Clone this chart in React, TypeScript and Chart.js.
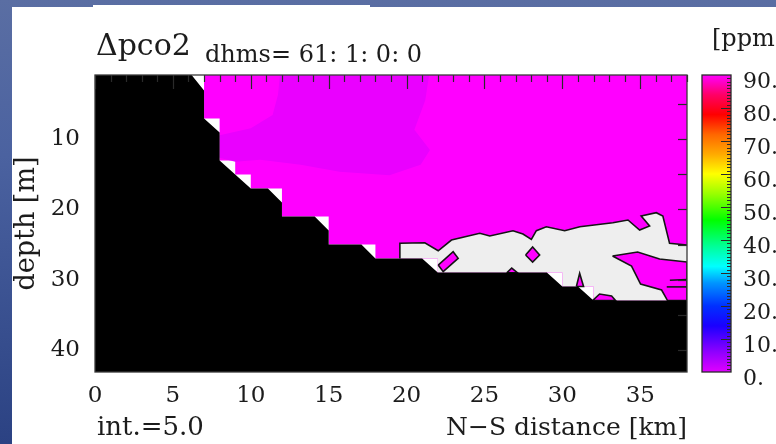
import React, { useEffect, useRef } from 'react';
import { Chart, registerables } from 'chart.js';

Chart.register(...registerables);

// ---------------- data ----------------
const kmRange = [0, 38];
const depthRange = [0.8, 43.2];
const xTickValues = [0, 5, 10, 15, 20, 25, 30, 35];
const depthTickValues = [10, 20, 30, 40];
const cbTickValues = [0, 10, 20, 30, 40, 50, 60, 70, 80, 90];

// colour scale of the colour bar (ppm -> colour)
const cbStopValues = [0, 6, 14, 20, 27, 32, 38, 46, 54, 60, 66, 72, 78, 84, 90];
const cbStopColors = ['#e000ff', '#9000ff', '#1a00ff', '#0030ff', '#0095ff', '#00ffff', '#00ff99', '#00ff00', '#99ff00', '#ffff00', '#ffaa00', '#ff6600', '#ff0000', '#ff0066', '#ff00ff'];

// bathymetry (land, black)
const landKm = [0, 6.2, 7, 7, 8, 8, 10, 11.1, 12, 12, 14.1, 15, 15, 17.1, 18, 21, 22, 29, 30, 31, 32, 38, 38, 0];
const landDepth = [0.8, 0.8, 3, 7, 9, 13, 17, 17, 19, 21, 21, 23, 25, 25, 27, 27, 29, 29, 31, 31, 33, 33, 43.2, 43.2];

// model water cells (stepped grid region)
const waterKm = [7, 38, 38, 32, 32, 30, 30, 22, 22, 18, 18, 15, 15, 12, 12, 10, 10, 9, 9, 8, 8, 7];
const waterDepth = [0, 0, 33, 33, 31, 31, 29, 29, 27, 27, 25, 25, 21, 21, 17, 17, 15, 15, 13, 13, 7, 7];

// slightly lower values (violet shade) near the surface
const violetKm = [11.9, 21.5, 21.2, 20.5, 21.5, 20.9, 18.9, 15.7, 13.2, 10.6, 9.0, 8.0, 8.0, 10.0, 11.4, 11.75];
const violetDepth = [0, 0, 4.4, 8.6, 11.5, 13.6, 15.1, 14.6, 13.6, 12.9, 13.2, 12.6, 9.4, 8.4, 6.5, 3.6];

// out-of-range area (light grey): upper contour
const greyTopKm = [19.57, 21.17, 22.03, 22.88, 24.7, 25.34, 26.83, 27.47, 28.01, 28.33, 28.97, 30.15, 31.12, 33.24, 34.21, 34.96, 35.6, 35.06, 36.03, 36.45, 36.88, 38];
const greyTopDepth = [24.83, 24.74, 25.89, 24.36, 23.4, 23.79, 23.03, 23.5, 24.26, 23.03, 22.46, 23.03, 22.46, 21.89, 21.5, 22.93, 22.36, 20.93, 20.46, 20.93, 24.83, 25.07];
// grey area: right edge and stepped floor back to the start
const greyBaseKm = [38, 32, 32, 30, 30, 22, 22, 19.57];
const greyBaseDepth = [33, 33, 31, 31, 29, 29, 27, 27];

// patches inside the grey area (back in range, magenta)
const wedgeKm = [33.22, 34.83, 36.24, 38, 38, 36.75, 36.37, 35.02, 34.44];
const wedgeDepth = [26.64, 26.07, 27.07, 27.5, 33, 33, 31.5, 30.64, 28.07];
const diamondKm = [27.64, 28.09, 28.54, 28.09];
const diamondDepth = [26.5, 25.36, 26.5, 27.5];
const barKm = [22.03, 22.99, 23.31, 22.35];
const barDepth = [27.93, 26.03, 26.97, 28.88];
const sliverKm = [26.43, 26.75, 27.13];
const sliverDepth = [29.05, 28.36, 29.05];
const spikeKm = [30.9, 31.11, 31.36];
const spikeDepth = [31.0, 29.11, 31.0];
const stripKm = [31.94, 32.39, 33.16, 33.41];
const stripDepth = [33, 32.07, 32.36, 33];

// short contour pieces at the right edge
const edgeLineAKm = [36.9, 38];
const edgeLineADepth = [30.1, 30.0];
const edgeLineBKm = [36.7, 38];
const edgeLineBDepth = [31.05, 31.05];

// ---------------- helpers ----------------
const FONT = '"DejaVu Serif", serif';
const TEXT = '#1c1c1c';
const pts = (xs: number[], ys: number[]) => xs.map((x, i) => ({ x, y: ys[i] }));
const closed = (xs: number[], ys: number[]) => {
  const p = pts(xs, ys);
  return [...p, p[0]];
};

const poly = (data: any[], color: string, order: number, outline = false) => ({
  data,
  backgroundColor: color,
  borderColor: '#151515',
  borderWidth: outline ? 1.6 : 0,
  fill: 'shape',
  pointRadius: 0,
  tension: 0,
  order,
});

const decorations = {
  id: 'decorations',
  afterDraw(chart: any) {
    const { ctx, chartArea: a, scales } = chart;
    const xs = scales.x;
    const ys = scales.y;
    const cb = scales.cb;
    ctx.save();

    // inward ticks on top edge
    ctx.strokeStyle = '#2a2a2a';
    ctx.lineWidth = 1.2;
    for (let k = Math.ceil(kmRange[0]); k <= kmRange[1]; k++) {
      const px = Math.round(xs.getPixelForValue(k)) + 0.5;
      const len = k % 5 === 0 ? 14 : 7;
      ctx.beginPath();
      ctx.moveTo(px, a.top);
      ctx.lineTo(px, a.top + len);
      ctx.stroke();
    }
    // inward ticks on right edge
    for (let d = 5; d <= depthRange[1]; d += 5) {
      const py = Math.round(ys.getPixelForValue(d)) + 0.5;
      ctx.beginPath();
      ctx.moveTo(a.right, py);
      ctx.lineTo(a.right - 9, py);
      ctx.stroke();
    }
    // frame
    ctx.strokeStyle = '#3a3a3a';
    ctx.lineWidth = 1.3;
    ctx.strokeRect(a.left, a.top, a.right - a.left, a.bottom - a.top);

    // colour bar
    const cx = a.right + 15;
    const cw = 29;
    const yTop = cb.getPixelForValue(cbTickValues[cbTickValues.length - 1]);
    const yBot = cb.getPixelForValue(cbTickValues[0]);
    const g = ctx.createLinearGradient(0, yBot, 0, yTop);
    cbStopValues.forEach((v, i) => g.addColorStop(v / 90, cbStopColors[i]));
    ctx.fillStyle = g;
    ctx.fillRect(cx, yTop, cw, yBot - yTop);
    ctx.strokeStyle = '#2a2a2a';
    ctx.lineWidth = 1;
    for (let v = 1; v < 90; v++) {
      const py = Math.round(cb.getPixelForValue(v)) + 0.5;
      const len = v % 10 === 0 ? 10 : 4;
      ctx.beginPath();
      ctx.moveTo(cx + cw, py);
      ctx.lineTo(cx + cw - len, py);
      ctx.stroke();
    }
    ctx.lineWidth = 1.3;
    ctx.strokeRect(cx, yTop, cw, yBot - yTop);

    // texts
    ctx.fillStyle = TEXT;
    ctx.textBaseline = 'alphabetic';
    ctx.textAlign = 'left';
    ctx.font = `30px ${FONT}`;
    ctx.fillText('\u0394pco2', 96, 55);
    ctx.font = `24px ${FONT}`;
    ctx.fillText('dhms= 61: 1: 0: 0', 205, 62);
    ctx.font = `24px ${FONT}`;
    ctx.fillText('[ppm', 712, 46);
    ctx.textBaseline = 'middle';
    ctx.font = `26px ${FONT}`;
    ctx.fillText('int.=5.0', 97, 428);
    ctx.restore();
  },
};

export default function App() {
  const ref = useRef<HTMLCanvasElement | null>(null);

  useEffect(() => {
    if (!ref.current) return;
    const greyPolygon = [...pts(greyTopKm, greyTopDepth), ...pts(greyBaseKm, greyBaseDepth)];
    const greyOutline = [{ x: greyBaseKm[greyBaseKm.length - 1], y: greyBaseDepth[greyBaseDepth.length - 1] }, ...pts(greyTopKm, greyTopDepth)];

    const chart = new Chart(ref.current, {
      type: 'line',
      data: {
        datasets: [
          poly(pts(landKm, landDepth), '#000000', 0),
          { data: pts(edgeLineAKm, edgeLineADepth), borderColor: '#151515', borderWidth: 1.6, fill: false, pointRadius: 0, order: 2 },
          { data: pts(edgeLineBKm, edgeLineBDepth), borderColor: '#151515', borderWidth: 1.6, fill: false, pointRadius: 0, order: 2 },
          poly(closed(wedgeKm, wedgeDepth), '#ff00ff', 3, true),
          poly(closed(diamondKm, diamondDepth), '#ff00ff', 3, true),
          poly(closed(barKm, barDepth), '#ff00ff', 3, true),
          poly(closed(sliverKm, sliverDepth), '#ff00ff', 3, true),
          poly(closed(spikeKm, spikeDepth), '#ff00ff', 3, true),
          poly(closed(stripKm, stripDepth), '#ff00ff', 3, true),
          { data: greyOutline, borderColor: '#151515', borderWidth: 1.6, fill: false, pointRadius: 0, tension: 0, order: 4 },
          poly(greyPolygon, '#eeeeee', 5),
          poly(pts(violetKm, violetDepth), '#ea00ff', 6),
          poly(pts(waterKm, waterDepth), '#ff00ff', 7),
        ] as any,
      },
      plugins: [decorations],
      options: {
        responsive: false,
        animation: false,
        events: [],
        layout: { padding: { top: 75, left: 0, right: 0, bottom: 0 } },
        plugins: { legend: { display: false }, tooltip: { enabled: false }, title: { display: false } },
        elements: { point: { radius: 0 }, line: { tension: 0 } },
        scales: {
          x: {
            type: 'linear',
            position: 'bottom',
            min: kmRange[0],
            max: kmRange[1],
            grid: { display: false, drawTicks: false },
            border: { display: false },
            afterBuildTicks: (s: any) => { s.ticks = xTickValues.map((v) => ({ value: v })); },
            afterFit: (s: any) => { s.height = 72; },
            ticks: { font: { family: FONT, size: 23 }, color: TEXT, padding: 10, maxRotation: 0, autoSkip: false, callback: (v: any) => String(v) },
            title: { display: true, text: 'N\u2212S distance [km]', align: 'end', font: { family: FONT, size: 25 }, color: TEXT, padding: { top: 0, bottom: 1 } },
          },
          y: {
            type: 'linear',
            position: 'left',
            reverse: true,
            min: depthRange[0],
            max: depthRange[1],
            grid: { display: false, drawTicks: false },
            border: { display: false },
            afterBuildTicks: (s: any) => { s.ticks = depthTickValues.map((v) => ({ value: v })); },
            afterFit: (s: any) => { s.width = 95; },
            ticks: { font: { family: FONT, size: 23 }, color: TEXT, padding: 15, autoSkip: false, callback: (v: any) => String(v) },
            title: { display: true, text: 'depth [m]', font: { family: FONT, size: 27 }, color: TEXT, padding: { top: 11, bottom: 0 } },
          },
          cb: {
            type: 'linear',
            axis: 'y',
            position: 'right',
            min: 0,
            max: 90,
            grid: { display: false, drawTicks: false },
            border: { display: false },
            afterBuildTicks: (s: any) => { s.ticks = cbTickValues.map((v) => ({ value: v })); },
            afterFit: (s: any) => { s.width = 89; },
            ticks: { font: { family: FONT, size: 22 }, color: TEXT, padding: 56, labelOffset: 7, autoSkip: false, callback: (v: any) => `${v}.` },
          },
        } as any,
      },
    });
    return () => chart.destroy();
  }, []);

  return (
    <div style={{ position: 'fixed', left: 0, top: 0, width: 776, height: 444, overflow: 'hidden', background: 'linear-gradient(to bottom, #5a6ea3 0%, #4b62a0 35%, #2b4283 100%)' }}>
      <div style={{ position: 'absolute', left: 12, top: 7, right: 0, bottom: 0, background: '#ffffff' }} />
      <div style={{ position: 'absolute', left: 93, top: 5, width: 277, height: 2, background: '#ffffff' }} />
      <canvas ref={ref} width={776} height={444} style={{ position: 'absolute', left: 0, top: 0, display: 'block' }} />
    </div>
  );
}
